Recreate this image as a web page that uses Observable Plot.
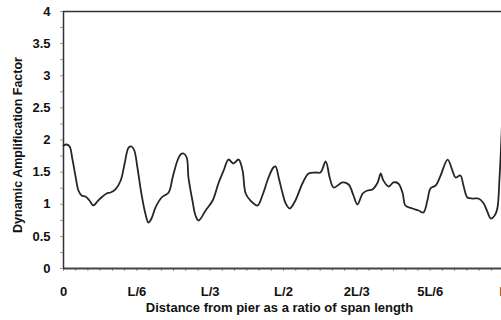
<!DOCTYPE html>
<html>
<head>
<meta charset="utf-8">
<script src="https://cdn.jsdelivr.net/npm/d3@7"></script>
<script src="https://cdn.jsdelivr.net/npm/@observablehq/plot@0.6"></script>
<style>
  html, body { margin: 0; padding: 0; background: #fff; overflow: hidden; }
  #wrap { width: 501px; height: 320px; overflow: hidden; }
  #wrap svg { max-width: none !important; }
</style>
</head>
<body>
<div id="wrap"></div>
<script>
// Distance from pier (fraction of span length L)
const distance = [0, 0.007, 0.014, 0.020, 0.027, 0.034, 0.041, 0.050, 0.059, 0.068, 0.077, 0.086, 0.098, 0.107, 0.118, 0.130, 0.139, 0.148, 0.155, 0.161, 0.168, 0.177, 0.186, 0.193, 0.200, 0.209, 0.223, 0.239, 0.248, 0.259, 0.266, 0.273, 0.280, 0.284, 0.293, 0.300, 0.307, 0.323, 0.339, 0.352, 0.364, 0.375, 0.386, 0.398, 0.407, 0.414, 0.425, 0.441, 0.452, 0.466, 0.477, 0.482, 0.489, 0.498, 0.505, 0.514, 0.527, 0.543, 0.557, 0.573, 0.584, 0.596, 0.605, 0.614, 0.634, 0.648, 0.659, 0.668, 0.680, 0.691, 0.702, 0.714, 0.721, 0.727, 0.739, 0.750, 0.761, 0.771, 0.777, 0.793, 0.807, 0.818, 0.827, 0.834, 0.846, 0.857, 0.873, 0.884, 0.891, 0.902, 0.909, 0.918, 0.930, 0.943, 0.955, 0.964, 0.971, 0.980, 0.986, 0.991, 0.996, 1.0];
// Dynamic amplification factor
const daf = [1.914, 1.930, 1.899, 1.712, 1.447, 1.214, 1.136, 1.121, 1.058, 0.981, 1.043, 1.105, 1.167, 1.183, 1.230, 1.370, 1.634, 1.883, 1.899, 1.837, 1.572, 1.167, 0.856, 0.716, 0.778, 0.949, 1.105, 1.183, 1.416, 1.681, 1.774, 1.790, 1.728, 1.416, 1.058, 0.825, 0.747, 0.903, 1.058, 1.323, 1.525, 1.696, 1.634, 1.696, 1.525, 1.167, 1.058, 0.981, 1.136, 1.416, 1.572, 1.588, 1.416, 1.167, 1.012, 0.934, 1.058, 1.323, 1.479, 1.494, 1.494, 1.665, 1.416, 1.261, 1.339, 1.307, 1.136, 0.996, 1.167, 1.214, 1.230, 1.339, 1.479, 1.370, 1.276, 1.339, 1.323, 1.167, 0.981, 0.934, 0.903, 0.872, 1.058, 1.245, 1.292, 1.447, 1.696, 1.525, 1.416, 1.447, 1.292, 1.105, 1.089, 1.089, 1.012, 0.872, 0.778, 0.825, 0.934, 1.416, 2.148, 2.926];

const xTickValues = [0, 1/6, 1/3, 1/2, 2/3, 5/6, 1];
const xTickLabels = ["0", "L/6", "L/3", "L/2", "2L/3", "5L/6", "L"];
const xMinorTicks = d3.range(0, 37).map(i => i / 36);
const yTickValues = [0, 0.5, 1, 1.5, 2, 2.5, 3, 3.5, 4];
const yMinorTicks = d3.range(0, 17).map(i => i / 4);
const xTitle = "Distance from pier as a ratio of span length";
const yTitle = "Dynamic Amplification Factor";

const data = distance.map((d, i) => ({x: d, y: daf[i]}));
const font = "'Liberation Sans', Arial, sans-serif";

const chart = Plot.plot({
  width: 510,
  height: 320,
  marginLeft: 63,
  marginRight: 7,
  marginTop: 11,
  marginBottom: 52,
  style: {fontFamily: font, background: "#fff", overflow: "visible", maxWidth: "none"},
  x: {domain: [0, 1], axis: null},
  y: {domain: [0, 4], axis: null},
  marks: [
    Plot.axisX(xMinorTicks, {label: null, tickSize: 3, stroke: "#999", strokeWidth: 1, tickFormat: () => ""}),
    Plot.axisY(yMinorTicks, {label: null, tickSize: 3, stroke: "#999", strokeWidth: 1, tickFormat: () => ""}),
    Plot.axisX(xTickValues, {label: null, tickSize: 0, tickPadding: 18, fontSize: 13, fontWeight: "bold", fill: "#111",
      tickFormat: (d, i) => xTickLabels[i]}),
    Plot.axisY(yTickValues, {label: null, tickSize: 0, tickPadding: 13, fontSize: 13, fontWeight: "bold", fill: "#111",
      tickFormat: d => String(d)}),
    Plot.ruleY([4], {stroke: "#333", strokeWidth: 1.5}),
    Plot.ruleY([0], {stroke: "#444", strokeWidth: 2}),
    Plot.ruleX([0], {stroke: "#333", strokeWidth: 1.5}),
    Plot.line(data, {x: "x", y: "y", curve: "catmull-rom", stroke: "#262626", strokeWidth: 1.8}),
    Plot.text([xTitle], {frameAnchor: "bottom", textAnchor: "middle", dy: 43, dx: -4, fontSize: 13, fontWeight: "bold", fill: "#111"}),
    Plot.text([yTitle], {frameAnchor: "left", textAnchor: "middle", dx: -46, dy: 5, rotate: -90, fontSize: 12.5, fontWeight: "bold", fill: "#111"})
  ]
});
document.getElementById("wrap").appendChild(chart);
</script>
</body>
</html>
